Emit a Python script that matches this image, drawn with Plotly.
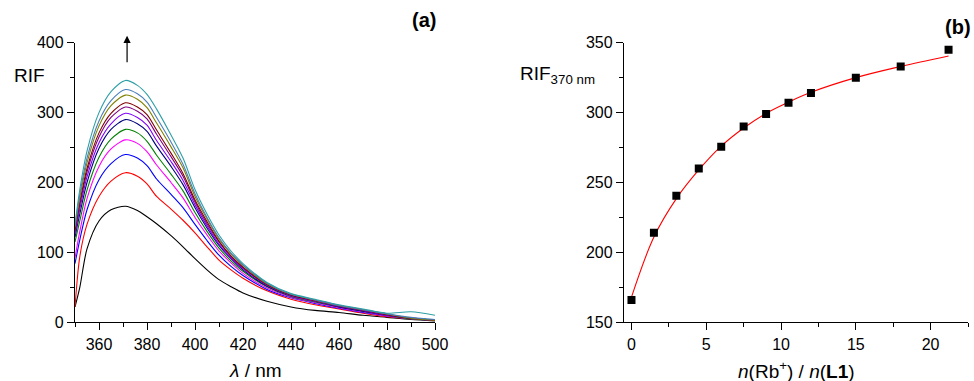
import plotly.graph_objects as go

# ---------------- Data: panel (a) emission spectra ----------------
wavelength = [350, 352, 355, 360, 365, 371, 376, 380, 384, 390, 395, 400,
              405, 410, 415, 420, 430, 440, 450, 460, 470, 480, 490, 500]

rif_black = [22, 50, 105, 145, 161, 166, 160, 151, 141, 124, 108, 91,
             75, 61, 51, 42, 30, 22, 17, 14, 10, 7, 4, 2]
rif_red = [22, 94, 140, 180, 202, 214, 209, 198, 180, 162, 146, 128,
           108, 89, 75, 63, 45, 33, 25, 19, 13, 8, 5, 3]
rif_blue = [84, 118, 161, 204, 227, 240, 235, 224, 205, 183, 164, 140,
            117, 96, 80, 67, 47, 35, 27, 20, 14, 9, 5, 3]
rif_magenta = [92, 130, 177, 223, 248, 261, 256, 244, 225, 200, 178, 150,
               125, 102, 85, 70, 49, 36, 28, 21, 15, 9, 5, 3]
rif_green = [115, 145, 189, 236, 262, 276, 271, 259, 239, 212, 188, 157,
             130, 106, 88, 73, 51, 37, 29, 22, 16, 10, 5, 3]
rif_navy = [122, 155, 200, 249, 276, 290, 284, 273, 252, 223, 197, 164,
            135, 110, 91, 75, 52, 38, 30, 22, 16, 10, 6, 3]
rif_violet = [126, 162, 208, 257, 284, 299, 293, 282, 260, 230, 203, 168,
              138, 112, 92, 77, 53, 38, 30, 23, 17, 10, 6, 3]
rif_purple = [130, 168, 215, 265, 293, 308, 302, 291, 269, 237, 209, 172,
              141, 115, 94, 78, 54, 39, 31, 23, 17, 11, 6, 3]
rif_wine = [133, 172, 220, 271, 299, 314, 308, 297, 275, 242, 213, 175,
            144, 116, 95, 79, 54, 39, 31, 24, 18, 11, 6, 3]
rif_olive = [136, 178, 228, 281, 310, 325, 319, 307, 285, 251, 221, 180,
             148, 119, 98, 81, 55, 40, 32, 24, 18, 12, 6, 3]
rif_steel = [138, 183, 235, 288, 317, 333, 327, 315, 293, 258, 226, 184,
             150, 121, 99, 82, 56, 40, 32, 24, 18, 12, 7, 4]
rif_teal = [140, 190, 245, 300, 330, 346, 339, 326, 305, 268, 235, 190,
            155, 125, 102, 84, 57, 41, 33, 25, 19, 13, 15, 10]

spectra = [rif_black, rif_red, rif_blue, rif_magenta, rif_green, rif_navy,
           rif_violet, rif_purple, rif_wine, rif_olive, rif_steel, rif_teal]
colors = ["#000000", "#FF0000", "#0000FF", "#FF00FF", "#008000", "#000080",
          "#8000FF", "#800080", "#800000", "#808000", "#4A7EBB", "#2E9FA6"]

# ---------------- Data: panel (b) titration ----------------
ratio = [0, 1.5, 3, 4.5, 6, 7.5, 9, 10.5, 12, 15, 18, 21.2]
rif_370 = [166, 214, 240.5, 260, 275.5, 290, 299, 307, 314, 325, 333, 345]
fit_ratio = [0, 1.5, 3, 4.5, 6, 7.5, 9, 10.5, 12, 15, 18, 21.2]
fit_rif = [168, 211, 238.5, 259, 276, 289, 299.5, 307.5, 314.5, 325, 333, 340.5]

a_xticks = [360, 380, 400, 420, 440, 460, 480, 500]
a_yticks = [0, 100, 200, 300, 400]
b_xticks = [0, 5, 10, 15, 20]
b_yticks = [150, 200, 250, 300, 350]

FONT = "Liberation Sans, Arial, sans-serif"

fig = go.Figure()

for ys, c in zip(spectra, colors):
    fig.add_trace(go.Scatter(x=wavelength, y=ys, mode="lines",
                             line=dict(color=c, width=1.1, shape="spline", smoothing=0.8),
                             xaxis="x", yaxis="y", showlegend=False, hoverinfo="skip"))

fig.add_trace(go.Scatter(x=fit_ratio, y=fit_rif, mode="lines",
                         line=dict(color="#FF0000", width=1.1, shape="spline"),
                         xaxis="x2", yaxis="y2", showlegend=False))
fig.add_trace(go.Scatter(x=ratio, y=rif_370, mode="markers",
                         marker=dict(symbol="square", size=8, color="black"),
                         xaxis="x2", yaxis="y2", showlegend=False))

axis_common = dict(showgrid=False, zeroline=False, showline=True, linecolor="black",
                   linewidth=1.3, ticks="outside", ticklen=7, tickwidth=1.2,
                   tickcolor="black", tickfont=dict(family=FONT, size=16, color="black"),
                   mirror=False, automargin=False)

fig.update_layout(
    template="none",
    width=974, height=381,
    margin=dict(l=0, r=0, t=0, b=0, pad=0, autoexpand=False),
    paper_bgcolor="white", plot_bgcolor="white",
    showlegend=False,
    xaxis=dict(domain=[75 / 974, 435 / 974], range=[350, 500], anchor="y",
               tickvals=a_xticks,
               minor=dict(ticks="outside", ticklen=4, tickwidth=1, tickcolor="black",
                          tickvals=[350, 370, 390, 410, 430, 450, 470, 490]),
               **axis_common),
    yaxis=dict(domain=[1 - 322.3 / 381, 1 - 42.7 / 381], range=[0, 400], anchor="x",
               tickvals=a_yticks,
               minor=dict(ticks="outside", ticklen=4, tickwidth=1, tickcolor="black",
                          tickvals=[50, 150, 250, 350]),
               **axis_common),
    xaxis2=dict(domain=[624 / 974, 968 / 974], range=[-0.5, 22.5], anchor="y2",
                tickvals=b_xticks,
                minor=dict(ticks="outside", ticklen=4, tickwidth=1, tickcolor="black",
                           tickvals=[2.5, 7.5, 12.5, 17.5, 22.5]),
                **axis_common),
    yaxis2=dict(domain=[1 - 322.3 / 381, 1 - 42.7 / 381], range=[150, 350], anchor="x2",
                tickvals=b_yticks,
                minor=dict(ticks="outside", ticklen=4, tickwidth=1, tickcolor="black",
                           tickvals=[175, 225, 275, 325]),
                **axis_common),
)

ann = [
    dict(text="RIF", x=12, y=75, xanchor="left", size=19),
    dict(text="<i>λ</i> / nm", x=255, y=370, xanchor="center", size=19),
    dict(text="<b>(a)</b>", x=424, y=20, xanchor="center", size=20),
    dict(text="<b>(b)</b>", x=958, y=27, xanchor="center", size=20),
    dict(text="RIF<sub>370 nm</sub>", x=518, y=75, xanchor="left", size=19),
    dict(text="<i>n</i>(Rb<sup>+</sup>) / <i>n</i>(<b>L1</b>)", x=796, y=370,
         xanchor="center", size=19),
]
annotations = []
for a in ann:
    annotations.append(dict(text=a["text"], x=a["x"] / 974, y=1 - a["y"] / 381,
                            xref="paper", yref="paper", showarrow=False,
                            xanchor=a["xanchor"], yanchor="middle",
                            font=dict(family=FONT, size=a["size"], color="black")))

annotations.append(dict(x=371.7, y=410, ax=371.7, ay=370, xref="x", yref="y",
                        axref="x", ayref="y", showarrow=True, arrowhead=2,
                        arrowsize=1.2, arrowwidth=1.2, arrowcolor="black", text=""))

fig.update_layout(annotations=annotations)
fig.write_html("out.html")
